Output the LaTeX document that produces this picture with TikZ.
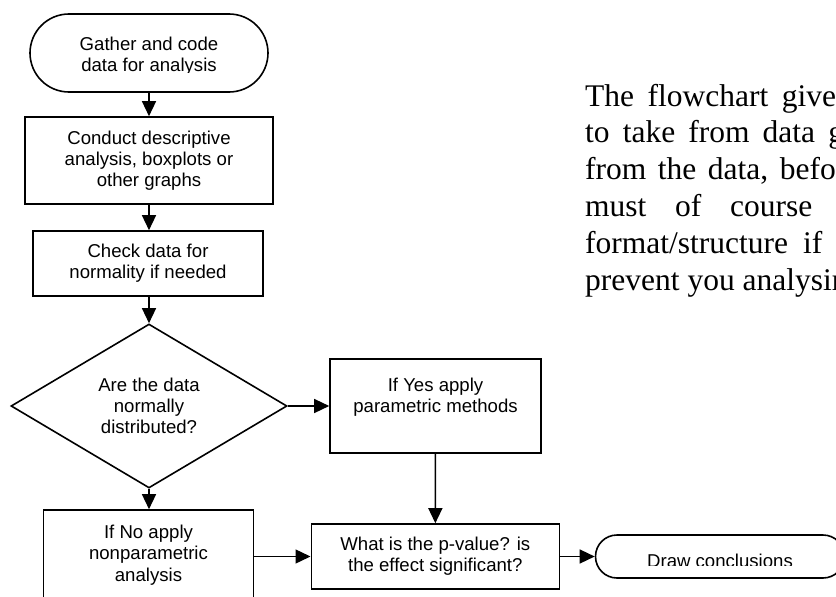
\documentclass[tikz,border=0pt]{standalone}
\usepackage{fontspec}
\setmainfont{Liberation Serif}
\newfontfamily\arialf{Liberation Sans}
\usetikzlibrary{arrows.meta,shapes.geometric,shapes.misc}
\newcommand\flowfont{\arialf\fontsize{18.6}{21.3}\selectfont}
\newcommand\parafont{\fontsize{31.5}{36.8}\selectfont}
\begin{document}
\begin{tikzpicture}[x=1pt,y=-1pt,
  shapeline/.style={draw, line width=1.6pt, inner sep=0pt, align=center, font=\flowfont},
  box/.style={shapeline, rectangle},
  term/.style={shapeline, rounded rectangle},
  dec/.style={shapeline, diamond},
  txt/.style={inner sep=0pt, anchor=base, font=\flowfont},
  conn/.style={line width=1.4pt, -{Triangle[length=15pt,width=14pt]}},
  para/.style={anchor=base west, inner sep=0pt, font=\parafont}]
\useasboundingbox (0,0) rectangle (836,597);
\clip (0,0) rectangle (836,597);

% terminator: gather
\node[term, minimum width=238pt, minimum height=78pt] (gather) at (149,53) {};
\begin{scope}
  \clip (30,14) rectangle (268,72.5);
  \node[txt] (gather1) at (149,50.7) {Gather and code};
  \node[txt] (gather2) at (149,71.7) {data for analysis};
\end{scope}

\node[box, minimum width=248pt, minimum height=87pt] (conduct) at (149,160.5)
  {Conduct descriptive\\analysis, boxplots or\\other graphs};
\node[box, minimum width=230pt, minimum height=65pt] (check) at (148,263.5)
  {Check data for\\normality if needed};
\node[dec, minimum width=276pt, minimum height=164pt] (dia) at (149,406)
  {Are the data\\normally\\distributed?};
\node[box, minimum width=211pt, minimum height=94pt] (yes) at (435.5,406)
  {If Yes apply\\parametric methods\\ \mbox{}};
\node[box, minimum width=210pt, minimum height=90pt] (no) at (148.5,555)
  {If No apply\\nonparametric\\analysis};
\node[box, minimum width=248pt, minimum height=65pt] (pval) at (435.3,556.5)
  {What is the p-value? is\\the effect significant?};
\node[term, minimum width=249pt, minimum height=43pt] (concl) at (720,556.5) {};
\begin{scope}
  \clip (596,535) rectangle (836,565);
  \node[txt] (concl1) at (720,567.3) {Draw conclusions};
\end{scope}

\draw[conn] (gather) -- (conduct);
\draw[conn] (conduct) -- (check.north -| conduct);
\draw[conn] (check.south -| dia) -- (dia);
\draw[conn] (dia) -- (no.north -| dia);
\draw[conn] (dia.east) -- (yes.west);
\draw[conn] (yes) -- (pval);
\draw[conn] (no.east |- pval.west) -- (pval.west);
\draw[conn] (pval) -- (concl);

% paragraph text (cut by the right edge)
\node[para] (l1) at (585,106.0) {The\hspace{13.5pt}flowchart\hspace{13.5pt}give};
\node[para] (l2) at (585,142.8) {to\hspace{13.1pt}take\hspace{13.1pt}from\hspace{13.1pt}data\hspace{13.1pt}g};
\node[para] (l3) at (585,179.6) {from\hspace{11.5pt}the\hspace{11.5pt}data,\hspace{11.5pt}befo};
\node[para] (l4) at (585,216.4) {must\hspace{28.7pt}of\hspace{28.7pt}course};
\node[para] (l5) at (585,253.2) {format/structure\hspace{15pt}if};
\node[para] (l6) at (585,290.0) {prevent you analysing};
\end{tikzpicture}
\end{document}
